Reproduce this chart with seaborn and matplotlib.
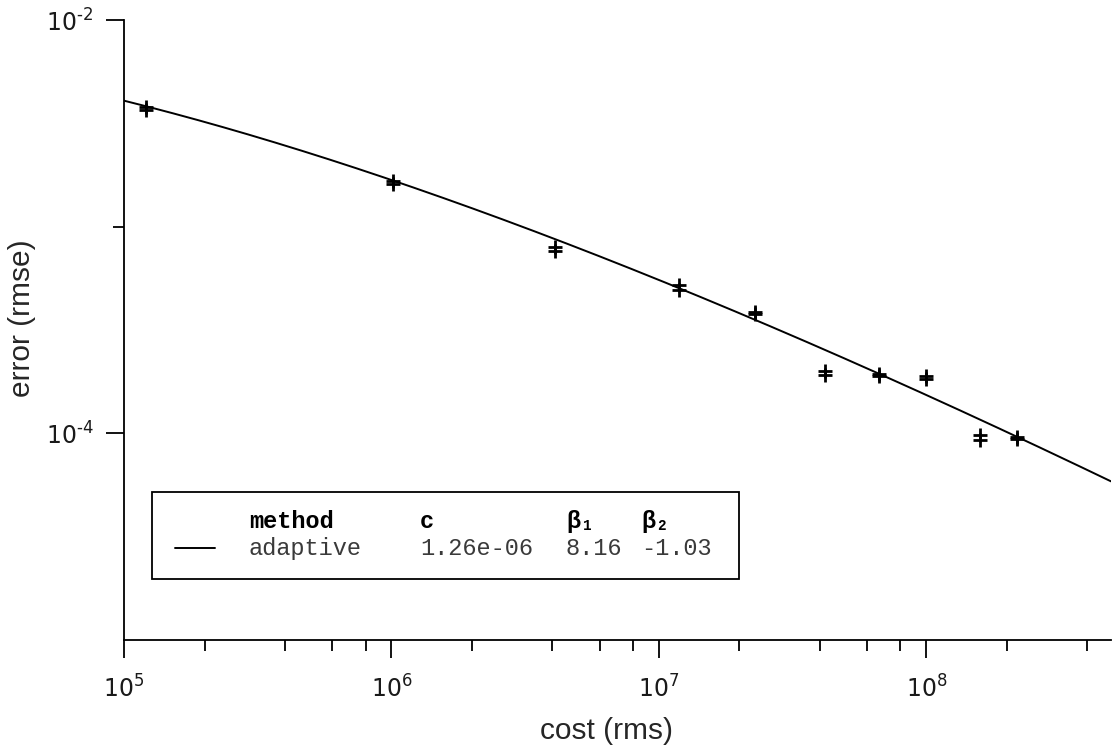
import numpy as np
import pandas as pd
import seaborn as sns
import matplotlib
matplotlib.use("Agg")
import matplotlib.pyplot as plt
from matplotlib.patches import Rectangle
from matplotlib.lines import Line2D
from matplotlib.ticker import FixedLocator, FuncFormatter, NullFormatter

# ---- data ----
cost = [1.21e5, 1.01e6, 4.07e6, 1.19e7, 2.28e7, 4.19e7, 6.66e7, 1.00e8, 1.58e8, 2.19e8]
error_a = [3.80e-3, 1.667e-3, 8.00e-4, 5.25e-4, 3.85e-4, 2.01e-4, 1.93e-4, 1.885e-4, 9.77e-5, 9.56e-5]
error_b = [3.67e-3, 1.614e-3, 7.65e-4, 4.96e-4, 3.80e-4, 1.905e-4, 1.885e-4, 1.84e-4, 9.25e-5, 9.36e-5]

# fitted model from legend: error = c * ln(cost)^beta1 * cost^beta2
method_name = "adaptive"
fit_c = 1.26e-06
fit_beta1 = 8.16
fit_beta2 = -1.03

x_limits = (1e5, 4.9e8)
y_limits = (1e-5, 1e-2)
x_major = [1e5, 1e6, 1e7, 1e8]
y_major = [1e-4, 1e-2]
y_minor = [1e-3]

sns.set_theme(style="ticks")
plt.rcParams["font.family"] = ["DejaVu Sans"]

fig = plt.figure(figsize=(11.15, 7.51), dpi=100)
ax = fig.add_axes([124/1115, 1-640/751, 987/1115, 620/751])

pts = pd.DataFrame({
    "cost": cost * 2,
    "error": error_a + error_b,
})
sns.scatterplot(data=pts, x="cost", y="error", marker="+", s=95, color="black",
                linewidth=2.0, ax=ax, zorder=3)

xs = np.logspace(np.log10(x_limits[0]), np.log10(x_limits[1]), 400)
fit = pd.DataFrame({"cost": xs, "error": fit_c * np.log(xs) ** fit_beta1 * xs ** fit_beta2})
sns.lineplot(data=fit, x="cost", y="error", color="black", linewidth=1.4, ax=ax, zorder=2)

ax.set_xscale("log")
ax.set_yscale("log")
ax.set_xlim(*x_limits)
ax.set_ylim(*y_limits)


def pow_fmt(v, pos):
    e = int(round(np.log10(v)))
    if e < 0:
        return r"$10^{\text{-}%d}$" % (-e)
    return r"$10^{%d}$" % e


ax.xaxis.set_major_locator(FixedLocator(x_major))
minor_x = [m * 10**k for k in range(5, 9) for m in (2, 4, 6, 8) if m * 10**k <= x_limits[1]]
ax.xaxis.set_minor_locator(FixedLocator(minor_x))
ax.yaxis.set_major_locator(FixedLocator(y_major))
ax.yaxis.set_minor_locator(FixedLocator(y_minor))
ax.xaxis.set_major_formatter(FuncFormatter(pow_fmt))
ax.yaxis.set_major_formatter(FuncFormatter(pow_fmt))
ax.xaxis.set_minor_formatter(NullFormatter())
ax.yaxis.set_minor_formatter(NullFormatter())

for s in ("top", "right"):
    ax.spines[s].set_visible(False)
for s in ("left", "bottom"):
    ax.spines[s].set_linewidth(1.3)
    ax.spines[s].set_color("black")

ax.tick_params(which="major", length=13, width=1.3, color="black", labelsize=17,
               labelcolor="#1a1a1a", direction="out")
ax.tick_params(axis="x", which="major", pad=12.5)
ax.tick_params(axis="y", which="major", pad=9)
ax.tick_params(which="minor", length=8, width=1.3, color="black", direction="out")

lab_font = ["Liberation Sans", "DejaVu Sans"]
ax.set_xlabel("cost (rms)", fontsize=21.5, family=lab_font)
ax.set_ylabel("error (rmse)", fontsize=21.5, family=lab_font)
ax.xaxis.set_label_coords((606 - 124) / 987, (640 - 717) / 620)
ax.yaxis.set_label_coords((36 - 124) / 987, (640 - 318) / 620)

# ---- legend box ----
mono = ["Liberation Mono", "DejaVu Sans Mono"]
ax.add_patch(Rectangle((0.0284, 0.0984), 0.623 - 0.0284, 0.2387 - 0.0984,
                       transform=ax.transAxes, fill=True, facecolor="white",
                       edgecolor="black", linewidth=1.3, zorder=4))
ax.add_line(Line2D([0.0517, 0.0922], [0.148, 0.148], transform=ax.transAxes,
                   color="black", linewidth=1.4, zorder=5))
headers = ["method", "c", "β₁", "β₂"]
values = [method_name, f"{fit_c:.2e}", f"{fit_beta1:.2f}", f"{fit_beta2:.2f}"]
cols = [0.1266, 0.2999, 0.4478, 0.5238]
for cx, h, v in zip(cols, headers, values):
    ax.text(cx, 0.191, h, transform=ax.transAxes, ha="left", va="center",
            fontsize=17, family=mono, fontweight="bold", color="black", zorder=6)
    ax.text(cx, 0.148, v, transform=ax.transAxes, ha="left", va="center",
            fontsize=17, family=mono, color="#3a3a3a", zorder=6)

fig.savefig("out.png", dpi=100)
